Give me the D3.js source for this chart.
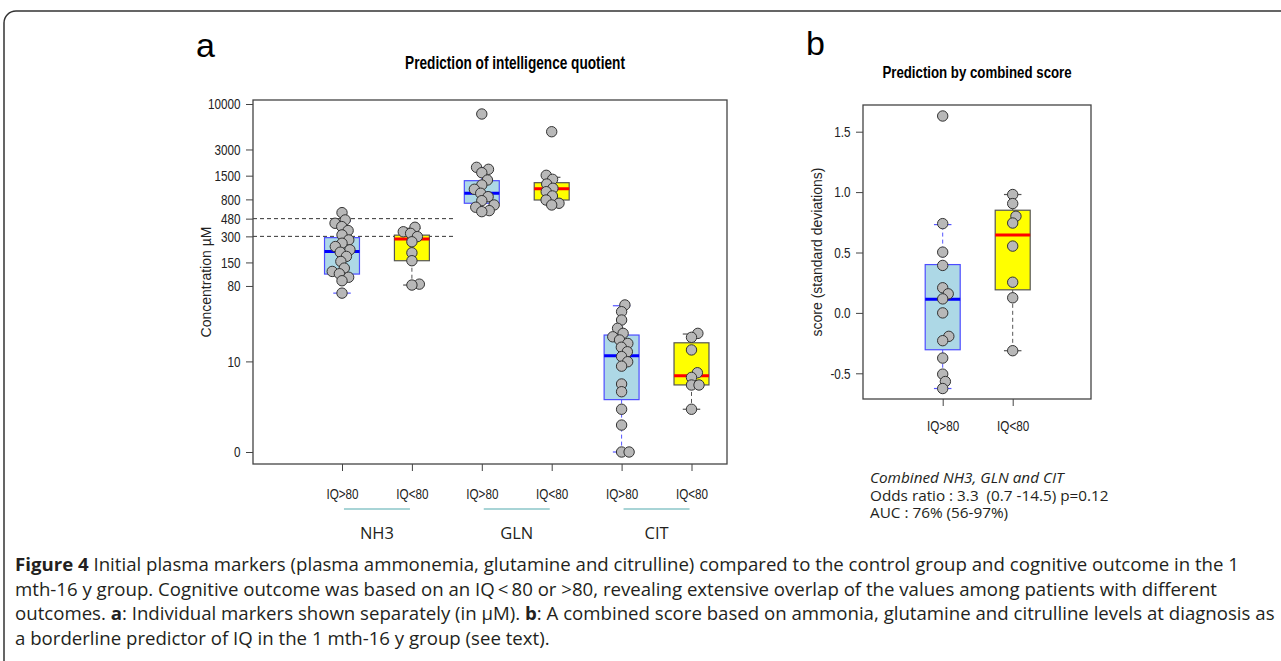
<!DOCTYPE html>
<html>
<head>
<meta charset="utf-8">
<title>Figure 4</title>
<script src="https://cdn.jsdelivr.net/npm/d3@7"></script>
<style>
body { margin:0; background:#fff; }
svg text { font-family: "Liberation Sans", Arial, sans-serif; fill:#222; }
svg text.cap { font-family: "Open Sans", "Noto Sans", sans-serif; fill:#231f20; white-space: pre; }
</style>
</head>
<body>
<script>
// ---- data ----
var groupsA = ["IQ>80", "IQ<80", "IQ>80", "IQ<80", "IQ>80", "IQ<80"];
var markers = ["NH3", "GLN", "CIT"];
var yTicksA = [0, 10, 80, 150, 300, 480, 800, 1500, 3000, 10000];
var refLines = [300, 480];
// whisker low, q1, median, q3, whisker high (µM)
var statsA = [
	[66, 110, 200, 290, 450],
	[82, 157, 280, 310, 372],
	[594, 722, 941, 1313, 1853],
	[703, 787, 1062, 1245, 1436],
	[0, 3.0, 11.8, 21.1, 47],
	[2.1, 4.9, 6.5, 17.0, 21.7]
];
var nh3Hi = [563, 464, 425, 389, 350, 312, 273, 250, 229, 210, 197, 176, 154, 129, 118, 111, 101, 92, 66];
var nh3Lo = [382, 339, 325, 298, 260, 194, 157, 84, 82];
var glnHi = [7674, 1870, 1775, 1622, 1336, 1172, 1046, 941, 860, 773, 690, 650, 594, 578];
var glnLo = [4800, 1514, 1361, 1202, 1074, 981, 876, 787, 722, 690];
var citHi = [48, 40, 31.9, 25.4, 22.1, 20.1, 18.4, 16.7, 15, 13.2, 11.5, 9.9, 8.7, 5.05, 3.93, 2.1, 1.04, 0, 0];
var citLo = [22.1, 19.8, 13.9, 7.15, 6.2, 4.89, 4.89, 2.1];
var pointsA = [nh3Hi, nh3Lo, glnHi, glnLo, citHi, citLo];

var groupsB = ["IQ>80", "IQ<80"];
var yTicksB = [-0.5, 0, 0.5, 1, 1.5];
var statsB = [
	[-0.626, -0.305, 0.113, 0.40, 0.731],
	[-0.313, 0.191, 0.645, 0.85, 0.98]
];
var scoreHi = [1.63, 0.739, 0.503, 0.393, 0.208, 0.158, 0.116, 0.0, -0.194, -0.23, -0.374, -0.507, -0.568, -0.626];
var scoreLo = [0.98, 0.905, 0.80, 0.744, 0.553, 0.254, 0.125, -0.313];
var pointsB = [scoreHi, scoreLo];

var noteLines = ["Combined NH3, GLN and CIT", "Odds ratio : 3.3  (0.7 -14.5) p=0.12", "AUC : 76% (56-97%)"];

// ---- styles ----
var styleHi = {fill:"#add8e6", border:"#4d4dff", median:"#0000ff", whisk:"#5555ff"};
var styleLo = {fill:"#ffff00", border:"#555555", median:"#ff0000", whisk:"#555555"};
var squeeze = 0.78;   // the R plots are horizontally squashed in the figure

var w = 1281, h = 661;
var svg = d3.select("body").append("svg").attr("width", w).attr("height", h);

// figure frame
svg.append("rect").attr("x", 4).attr("y", 11).attr("width", 1320).attr("height", 720)
	.attr("rx", 12).attr("fill", "none").attr("stroke", "#333").attr("stroke-width", 1.5);

// beeswarm offsets (px) from pixel y values
function swarm(ys, d) {
	var order = ys.map(function(y, i){ return i; }).sort(function(a, b){ return ys[b] - ys[a]; });
	var placed = [], xs = [];
	order.forEach(function(i) {
		var y = ys[i], cands = [0];
		placed.forEach(function(p) {
			var dy = Math.abs(p.y - y);
			if (dy < d) { var dx = Math.sqrt(d*d - dy*dy); cands.push(p.x + dx, p.x - dx); }
		});
		cands.sort(function(a, b){ return Math.abs(a) - Math.abs(b); });
		var x = cands.find(function(c) {
			return placed.every(function(p){ return (p.x-c)*(p.x-c) + (p.y-y)*(p.y-y) >= d*d - 0.01; });
		});
		xs[i] = x; placed.push({x:x, y:y});
	});
	return xs;
}

function drawBox(g, cx, bw, s, y, st) {
	g.append("line").attr("x1", cx).attr("x2", cx).attr("y1", y(s[3])).attr("y2", y(s[4]))
		.attr("stroke", st.whisk).attr("stroke-dasharray", "4,3");
	g.append("line").attr("x1", cx).attr("x2", cx).attr("y1", y(s[1])).attr("y2", y(s[0]))
		.attr("stroke", st.whisk).attr("stroke-dasharray", "4,3");
	[s[0], s[4]].forEach(function(v) {
		g.append("line").attr("x1", cx - bw/4).attr("x2", cx + bw/4).attr("y1", y(v)).attr("y2", y(v))
			.attr("stroke", st.whisk).attr("stroke-width", 1.2);
	});
	g.append("rect").attr("x", cx - bw/2).attr("width", bw).attr("y", y(s[3])).attr("height", y(s[1]) - y(s[3]))
		.attr("fill", st.fill).attr("stroke", st.border).attr("stroke-width", 1.2);
	g.append("line").attr("x1", cx - bw/2).attr("x2", cx + bw/2).attr("y1", y(s[2])).attr("y2", y(s[2]))
		.attr("stroke", st.median).attr("stroke-width", 3);
}

function drawPoints(g, cx, vals, y) {
	var ys = vals.map(function(v){ return y(v); });
	var xs = swarm(ys, 7.5);
	g.selectAll(null).data(vals).enter().append("circle")
		.attr("cx", function(d, i){ return cx + xs[i]; })
		.attr("cy", function(d, i){ return ys[i]; })
		.attr("r", 5.2)
		.attr("fill", "#b8b8b8").attr("stroke", "#333").attr("stroke-width", 1);
}

// squashed horizontal text (anchor kept at x)
function narrow(g, x, y, str, size, anchor, bold) {
	return g.append("g").attr("transform", "translate(" + x + "," + y + ") scale(" + squeeze + ",1)")
		.append("text").attr("text-anchor", anchor).style("font-size", size + "px")
		.style("font-weight", bold ? "bold" : "normal").style("fill", bold ? "#000" : "#222").text(str);
}

function styleAxis(ax) {
	ax.select(".domain").remove();
	ax.selectAll("line").attr("stroke", "#444");
	ax.selectAll("text").style("font-size", "15px").style("font-family", null).attr("fill", "#222")
		.attr("transform", "scale(" + squeeze + ",1)");
}

// ================= panel a =================
var A = {left:253, right:727, top:100, bottom:464};
var xa = d3.scaleLinear().domain([1, 6]).range([342, 691.5]);
var ya = d3.scaleSymlog().constant(1).domain([0, 10000]).range([452, 104]);
var bwA = (xa(2) - xa(1)) / 2;

var ga = svg.append("g");
ga.append("text").attr("x", 196).attr("y", 57).style("font-size", "34px").style("fill", "#000").text("a");
narrow(ga, 515, 69, "Prediction of intelligence quotient", 17.5, "middle", true);

refLines.forEach(function(v) {
	ga.append("line").attr("x1", A.left).attr("x2", 456).attr("y1", ya(v)).attr("y2", ya(v))
		.attr("stroke", "#333").attr("stroke-dasharray", "4,3");
});

groupsA.forEach(function(name, i) {
	drawBox(ga, xa(i + 1), bwA, statsA[i], ya, i % 2 ? styleLo : styleHi);
});
groupsA.forEach(function(name, i) {
	drawPoints(ga, xa(i + 1), pointsA[i], ya);
});

ga.append("rect").attr("x", A.left).attr("y", A.top).attr("width", A.right - A.left).attr("height", A.bottom - A.top)
	.attr("fill", "none").attr("stroke", "#444").attr("stroke-width", 1.3);

var ayA = ga.append("g").attr("transform", "translate(" + A.left + ",0)")
	.call(d3.axisLeft(ya).tickValues(yTicksA).tickSize(7).tickPadding(9).tickFormat(function(d){ return String(d); }));
var axA = ga.append("g").attr("transform", "translate(0," + A.bottom + ")")
	.call(d3.axisBottom(xa).tickValues([1, 2, 3, 4, 5, 6]).tickSize(7).tickPadding(17)
		.tickFormat(function(d, i){ return groupsA[i]; }));
styleAxis(ayA);
styleAxis(axA);

ga.append("text").attr("transform", "translate(211," + (A.top + A.bottom) / 2 + ") rotate(-90)")
	.attr("text-anchor", "middle").style("font-size", "14px").text("Concentration µM");

markers.forEach(function(m, i) {
	var cx = (xa(2*i + 1) + xa(2*i + 2)) / 2;
	ga.append("line").attr("x1", cx - 33).attr("x2", cx + 33).attr("y1", 509).attr("y2", 509)
		.attr("stroke", "#a8d4d6").attr("stroke-width", 2);
	ga.append("text").attr("class", "cap").attr("x", cx).attr("y", 539).attr("text-anchor", "middle")
		.style("font-size", "16.5px").text(m);
});

// ================= panel b =================
var B = {left:863, right:1091, top:105, bottom:399};
var xb = d3.scaleLinear().domain([1, 2]).range([942.7, 1012.7]);
var yb = d3.scaleLinear().domain([-0.5, 1.5]).range([373.3, 131.7]);
var bwB = (xb(2) - xb(1)) / 2;

var gb = svg.append("g");
gb.append("text").attr("x", 806).attr("y", 55).style("font-size", "34px").style("fill", "#000").text("b");
narrow(gb, (B.left + B.right) / 2, 78, "Prediction by combined score", 17, "middle", true);

groupsB.forEach(function(name, i) {
	drawBox(gb, xb(i + 1), bwB, statsB[i], yb, i % 2 ? styleLo : styleHi);
});
groupsB.forEach(function(name, i) {
	drawPoints(gb, xb(i + 1), pointsB[i], yb);
});

gb.append("rect").attr("x", B.left).attr("y", B.top).attr("width", B.right - B.left).attr("height", B.bottom - B.top)
	.attr("fill", "none").attr("stroke", "#444").attr("stroke-width", 1.3);

var ayB = gb.append("g").attr("transform", "translate(" + B.left + ",0)")
	.call(d3.axisLeft(yb).tickValues(yTicksB).tickSize(7).tickPadding(9).tickFormat(function(d){ return d.toFixed(1); }));
var axB = gb.append("g").attr("transform", "translate(0," + B.bottom + ")")
	.call(d3.axisBottom(xb).tickValues([1, 2]).tickSize(7).tickPadding(14)
		.tickFormat(function(d, i){ return groupsB[i]; }));
styleAxis(ayB);
styleAxis(axB);

gb.append("text").attr("transform", "translate(822," + (B.top + B.bottom) / 2 + ") rotate(-90)")
	.attr("text-anchor", "middle").style("font-size", "14px").text("score (standard deviations)");

noteLines.forEach(function(t, i) {
	gb.append("text").attr("class", "cap").attr("x", 870).attr("y", 483 + i * 17.5)
		.style("font-size", "15.3px").style("font-style", i === 0 ? "italic" : "normal").text(t);
});

// ================= caption =================
var capLines = [
	[["Figure 4", true], [" Initial plasma markers (plasma ammonemia, glutamine and citrulline) compared to the control group and cognitive outcome in the 1", false]],
	[["mth-16 y group. Cognitive outcome was based on an IQ\u2009<\u200980 or >80, revealing extensive overlap of the values among patients with different", false]],
	[["outcomes. ", false], ["a", true], [": Individual markers shown separately (in µM). ", false], ["b", true], [": A combined score based on ammonia, glutamine and citrulline levels at diagnosis as", false]],
	[["a borderline predictor of IQ in the 1 mth-16 y group (see text).", false]]
];
var capText = capLines.map(function(parts, i) {
	var t = svg.append("text").attr("class", "cap").attr("x", 15).attr("y", 571 + i * 24.5).style("font-size", "16px");
	parts.forEach(function(p) {
		t.append("tspan").style("font-weight", p[1] ? "bold" : "normal").text(p[0]);
	});
	return t;
});
// fit the caption font so the first line spans as in the figure
var len0 = capText[0].node().getComputedTextLength();
var capSize = 16 * 1225 / len0;
capText.forEach(function(t){ t.style("font-size", capSize + "px"); });
</script>
</body>
</html>
